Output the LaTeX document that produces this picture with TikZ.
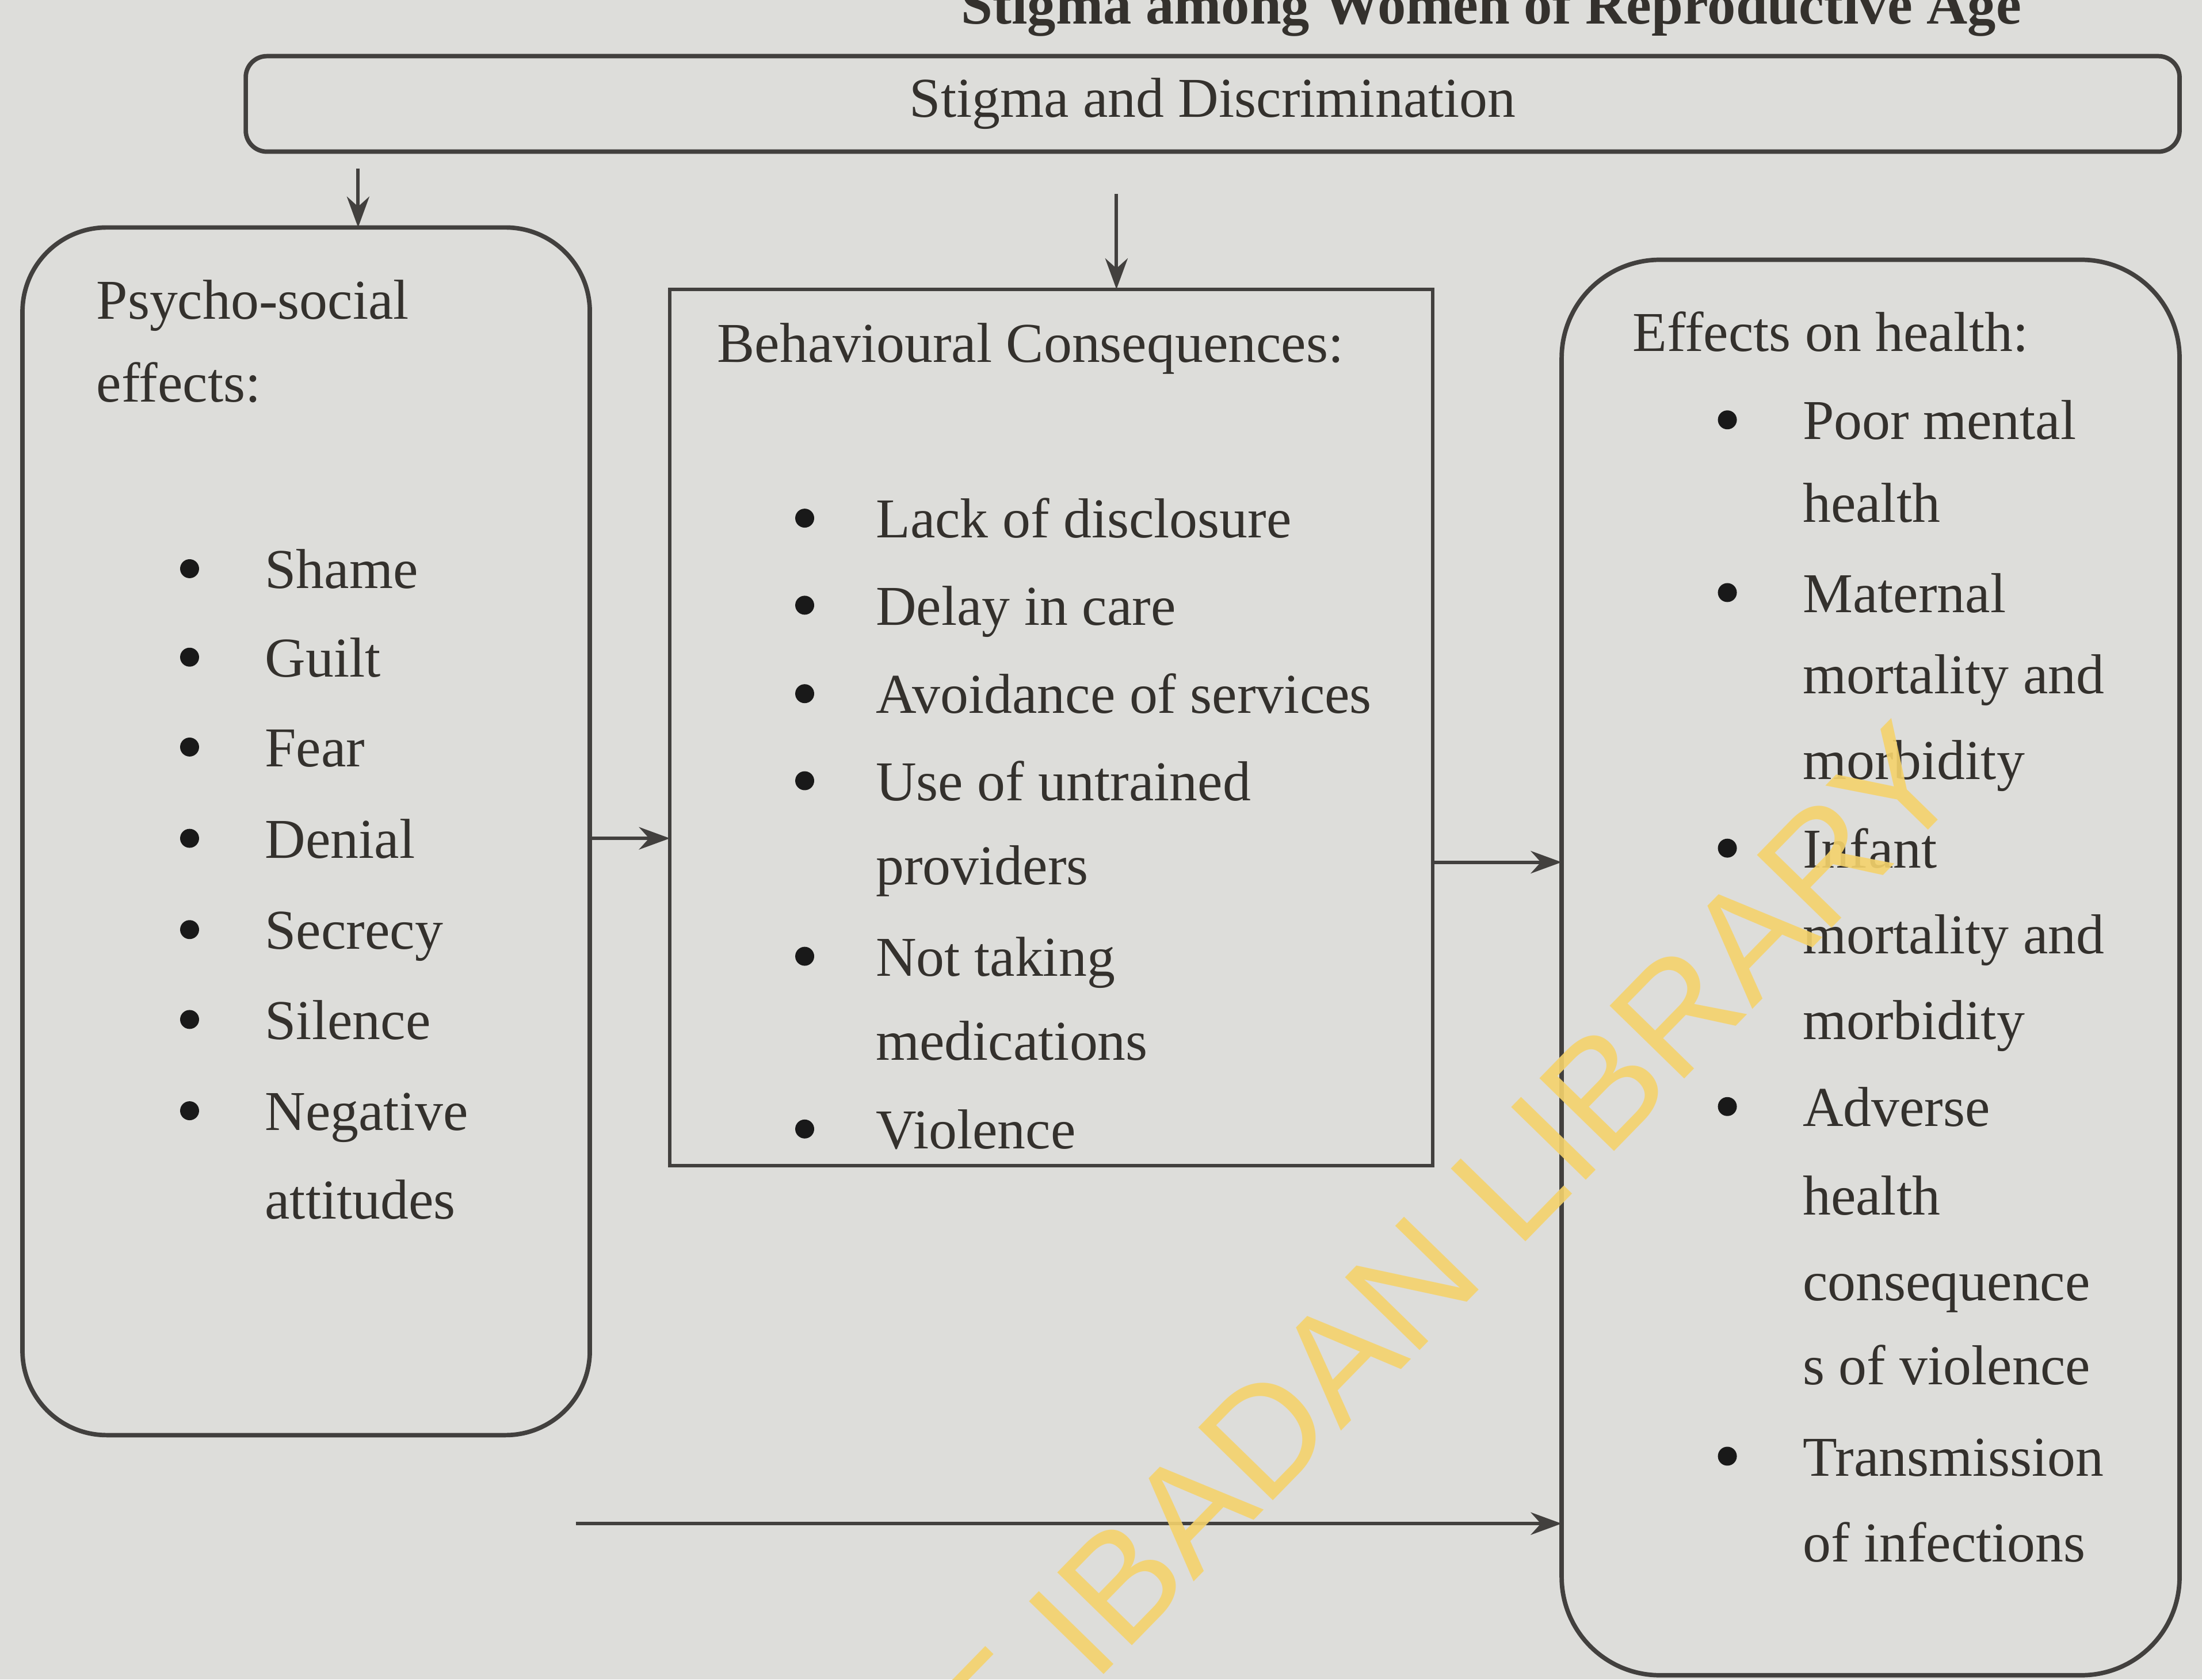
\documentclass[tikz,border=0pt]{standalone}
\usepackage{fontspec}
\setmainfont{Liberation Serif}
\newfontfamily\stampfont{Liberation Sans}
\usetikzlibrary{arrows.meta}
\definecolor{paper}{RGB}{221,221,218}
\definecolor{ink}{RGB}{52,49,45}
\definecolor{edge}{RGB}{66,64,62}
\definecolor{stamp}{RGB}{245,211,108}
\tikzset{
  txt/.style={anchor=base west, inner sep=0pt, text=ink, font=\fontsize{11.4}{14}\selectfont},
  dot/.style={circle, fill=black!90, inner sep=0pt, minimum size=1.35mm},
  box/.style={draw=edge, line width=0.9pt, inner sep=0pt, outer sep=0pt},
  conn/.style={draw=edge, line width=0.7pt, -{Stealth[length=2.2mm,width=1.6mm]}}
}
\begin{document}
\begin{tikzpicture}
  \useasboundingbox (0,0) rectangle (15.68,-11.96);
  \clip (0,0) rectangle (15.68,-11.96);
  \fill[paper] (0,0) rectangle (15.68,-11.96);

  \node[anchor=base east, inner sep=0pt, text=ink, font=\bfseries\fontsize{11.5}{14}\selectfont] (title) at (14.40,-0.17) {Stigma among Women of Reproductive Age};

  \node[box, rounded corners=0.15cm, minimum width=13.77cm, minimum height=0.68cm, text=ink, font=\fontsize{11.4}{14}\selectfont] (stigma) at (8.635,-0.74) {Stigma and Discrimination};
  \node[box, rounded corners=0.6cm, minimum width=4.04cm, minimum height=8.6cm] (psy) at (2.18,-5.92) {};
  \node[box, line width=0.7pt, minimum width=5.43cm, minimum height=6.24cm] (beh) at (7.485,-5.18) {};
  \node[box, rounded corners=0.7cm, minimum width=4.4cm, minimum height=10.08cm] (eff) at (13.32,-6.89) {};

  % psycho-social effects
  \node[txt] (psyhead1) at (0.68,-2.27) {Psycho-social};
  \node[txt] (psyhead2) at (0.68,-2.86) {effects:};
  \foreach \y/\t [count=\i] in {4.19/Shame, 4.82/Guilt, 5.46/Fear, 6.11/Denial, 6.76/Secrecy, 7.40/Silence, 8.05/Negative, 8.68/attitudes}
    \node[txt] (psyitem\i) at (1.88,-\y) {\t};
  \foreach \y [count=\i] in {4.19, 4.82, 5.46, 6.11, 6.76, 7.40, 8.05}
    \node[dot] (psydot\i) at (1.35,-\y+0.14) {};

  % behavioural consequences
  \node[txt] (behhead) at (5.10,-2.58) {Behavioural Consequences:};
  \foreach \y/\t [count=\i] in {3.83/Lack of disclosure, 4.45/Delay in care, 5.08/Avoidance of services, 5.70/Use of untrained, 6.30/providers, 6.95/Not taking, 7.55/medications, 8.18/Violence}
    \node[txt] (behitem\i) at (6.23,-\y) {\t};
  \foreach \y [count=\i] in {3.83, 4.45, 5.08, 5.70, 6.95, 8.18}
    \node[dot] (behdot\i) at (5.73,-\y+0.14) {};

  % effects on health
  \node[txt] (effhead) at (11.62,-2.50) {Effects on health:};
  \foreach \y/\t [count=\i] in {3.13/Poor mental, 3.72/health, 4.36/Maternal, 4.94/mortality and, 5.55/morbidity, 6.18/Infant, 6.79/mortality and, 7.40/morbidity, 8.02/Adverse, 8.65/health, 9.26/consequence, 9.86/s of violence, 10.51/Transmission, 11.12/of infections}
    \node[txt] (effitem\i) at (12.83,-\y) {\t};
  \foreach \y [count=\i] in {3.13, 4.36, 6.18, 8.02, 10.51}
    \node[dot] (effdot\i) at (12.30,-\y+0.14) {};

  \coordinate (psytop) at ([xshift=3.7mm]psy.north);
  \coordinate (stigmaleft) at (stigma.south -| psytop);
  \coordinate (behtop) at ([xshift=4.65mm]beh.north);
  \coordinate (stigmamid) at (stigma.south -| behtop);
  \coordinate (psyright) at ([yshift=-0.5mm]psy.east);
  \coordinate (behright) at ([yshift=-9.6mm]beh.east);
  \coordinate (psylow) at (4.10,-10.85);

  \draw[conn, shorten <=1.2mm] (stigmaleft) -- (psytop);
  \draw[conn, shorten <=3mm] (stigmamid) -- (behtop);
  \draw[conn] (psyright) -- (psyright -| beh.west);
  \draw[conn] (behright) -- (behright -| eff.west);
  \draw[conn] (psylow) -- (psylow -| eff.west);

  \node[rotate=45.7, anchor=base east, inner sep=0pt, text=stamp, opacity=0.9, font=\stampfont\fontsize{30.7}{36}\selectfont] (stampmark) at (14.02,-5.61) {UNIVERSITY OF IBADAN LIBRARY};
\end{tikzpicture}
\end{document}
